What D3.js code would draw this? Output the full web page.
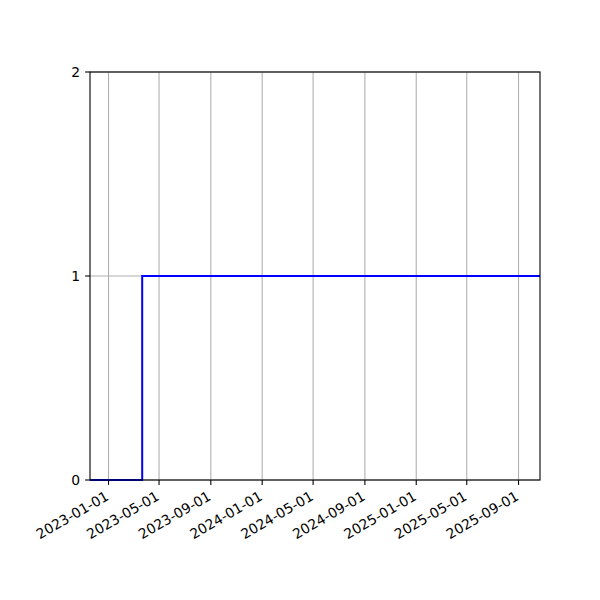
<!DOCTYPE html>
<html>
<head>
<meta charset="utf-8">
<script src="https://cdn.jsdelivr.net/npm/d3@7"></script>
<style>
  body { margin: 0; background: #fff; }
  text { font-family: "DejaVu Sans", sans-serif; }
</style>
</head>
<body>
<div id="chart"></div>
<script>
// step series: value switches from 0 to 1 in late March 2023
const dates = ["2022-11-18", "2023-03-22", "2025-10-22"]
const values = [0, 1, 1]
const xTickLabels = ["2023-01-01", "2023-05-01", "2023-09-01", "2024-01-01", "2024-05-01",
                     "2024-09-01", "2025-01-01", "2025-05-01", "2025-09-01"]
const yTicks = [0, 1, 2]
const xDomain = ["2022-11-18", "2025-10-22"]

const parse = d3.utcParse("%Y-%m-%d")

function createCanvas(){
    return { width: 600, height: 600, margin: {top: 72, right: 60, bottom: 120, left: 90} }
}

const canvas = createCanvas()
const innerW = canvas.width - canvas.margin.left - canvas.margin.right
const innerH = canvas.height - canvas.margin.top - canvas.margin.bottom

const svg = d3.select("#chart").append("svg")
    .attr("width", canvas.width).attr("height", canvas.height)

const g = svg.append("g").attr("transform", `translate(${canvas.margin.left},${canvas.margin.top})`)

const x = d3.scaleUtc().domain(xDomain.map(parse)).range([0, innerW])
const y = d3.scaleLinear().domain([0, 2]).range([innerH, 0])

const tickLen = 4.9
const tickFont = "13.9px"

// grid
g.selectAll(".xgrid").data(xTickLabels).enter().append("line")
    .attr("x1", d => x(parse(d))).attr("x2", d => x(parse(d)))
    .attr("y1", 0).attr("y2", innerH)
    .attr("stroke", "#b0b0b0").attr("stroke-width", 1.1)
g.selectAll(".ygrid").data(yTicks).enter().append("line")
    .attr("x1", 0).attr("x2", innerW)
    .attr("y1", d => y(d)).attr("y2", d => y(d))
    .attr("stroke", "#b0b0b0").attr("stroke-width", 1.1)

// series
const data = dates.map((d, i) => ({date: parse(d), value: values[i]}))
const line = d3.line().x(d => x(d.date)).y(d => y(d.value)).curve(d3.curveStepAfter)
g.append("path").datum(data).attr("d", line)
    .attr("fill", "none").attr("stroke", "#0000ff").attr("stroke-width", 2)

// spines
g.append("rect").attr("x", 0).attr("y", 0).attr("width", innerW).attr("height", innerH)
    .attr("fill", "none").attr("stroke", "#000").attr("stroke-width", 1.1)

// x axis ticks and labels
const xt = g.selectAll(".xt").data(xTickLabels).enter().append("g")
    .attr("transform", d => `translate(${x(parse(d))},${innerH})`)
xt.append("line").attr("y1", 0).attr("y2", tickLen).attr("stroke", "#000").attr("stroke-width", 1.1)
xt.append("text")
    .attr("transform", "translate(-4,10) rotate(-30)")
    .attr("text-anchor", "end").attr("dy", "0.75em")
    .attr("font-size", tickFont).attr("fill", "#000")
    .text(d => d)

// y axis ticks and labels
const yt = g.selectAll(".yt").data(yTicks).enter().append("g")
    .attr("transform", d => `translate(0,${y(d)})`)
yt.append("line").attr("x1", -tickLen).attr("x2", 0).attr("stroke", "#000").attr("stroke-width", 1.1)
yt.append("text").attr("x", -tickLen - 4.9).attr("dy", "0.35em")
    .attr("text-anchor", "end").attr("font-size", tickFont).attr("fill", "#000")
    .text(d => d)
</script>
</body>
</html>
